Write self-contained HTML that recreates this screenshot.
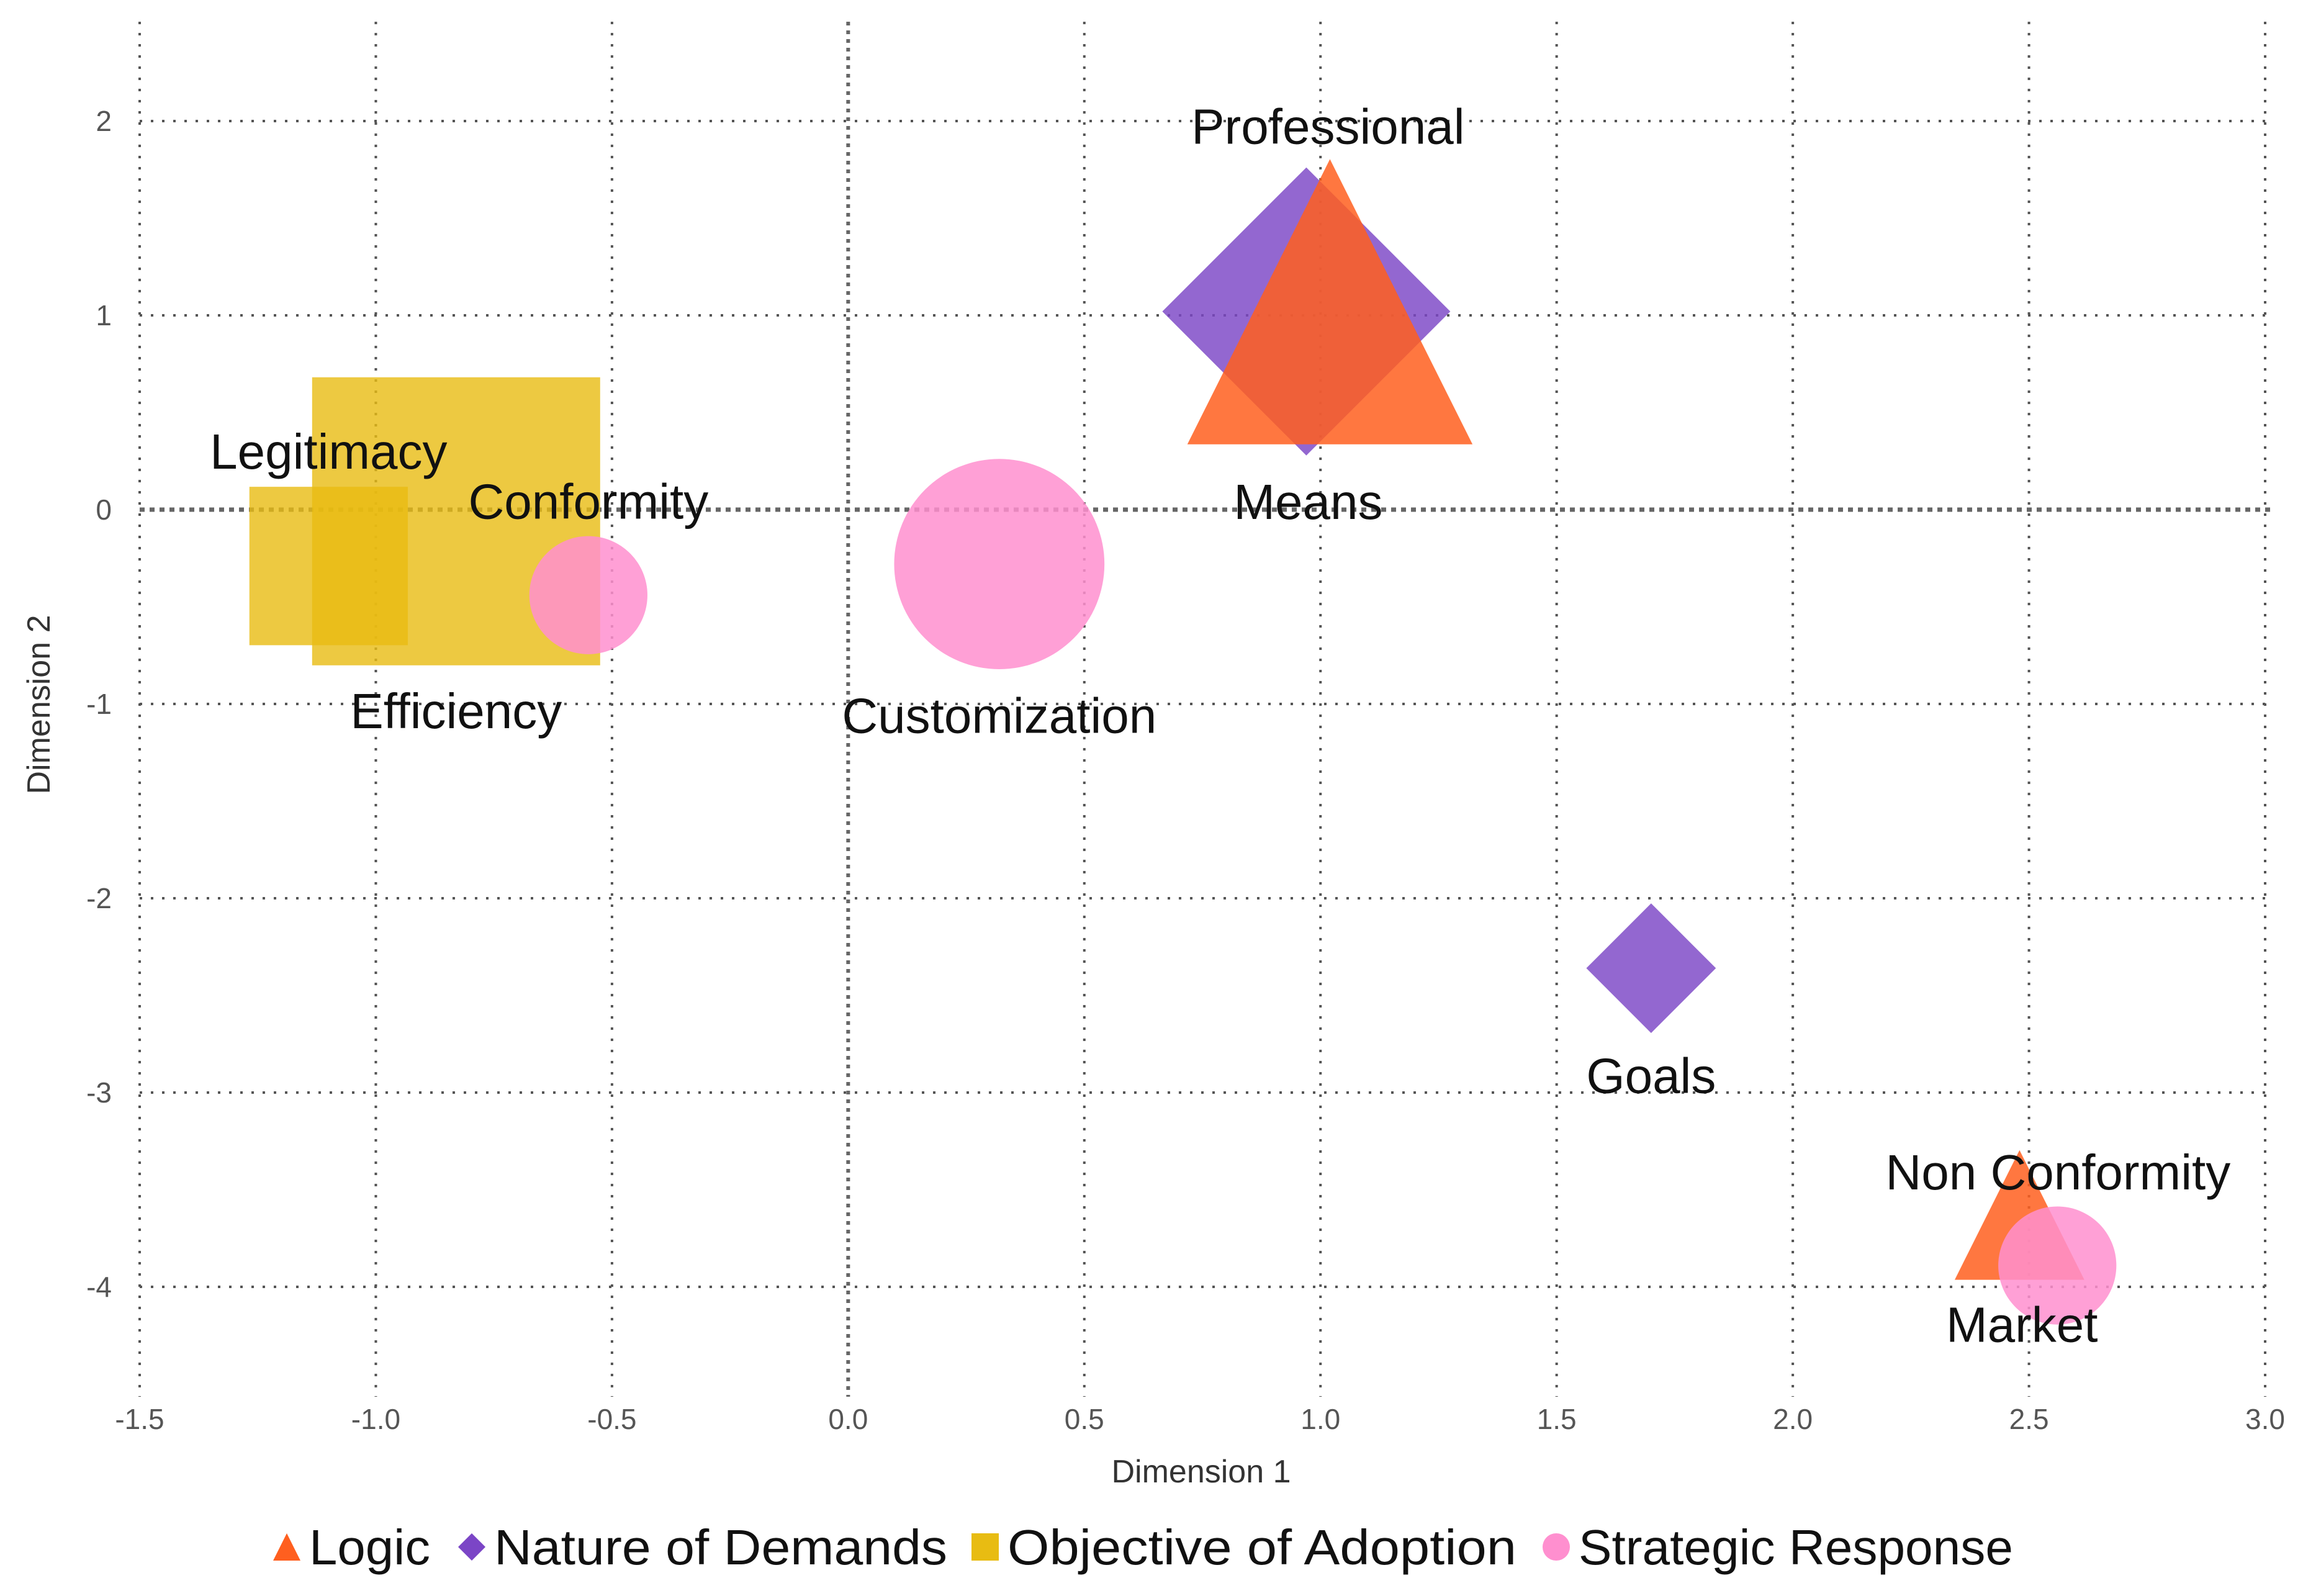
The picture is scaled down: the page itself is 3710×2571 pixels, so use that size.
<!DOCTYPE html>
<html><head><meta charset="utf-8"><style>
html,body{margin:0;padding:0;background:#fff;}
svg{display:block;font-family:"Liberation Sans",sans-serif;}
</style></head><body>
<svg id="chart" width="3710" height="2571" viewBox="0 0 3710 2571" xmlns="http://www.w3.org/2000/svg"></svg>
<script>
const categories = ["Legitimacy","Efficiency","Conformity","Customization","Professional","Means","Goals","Non Conformity","Market"];
const series = ["Objective of Adoption","Objective of Adoption","Strategic Response","Strategic Response","Nature of Demands","Logic","Nature of Demands","Logic","Strategic Response"];
const xValues = [-1.10,-0.83,-0.55,0.32,0.97,1.02,1.70,2.48,2.56];
const yValues = [-0.29,-0.06,-0.44,-0.28,1.02,1.07,-2.36,-3.63,-3.89];
const sizes = [1.1,2.0,0.82,1.46,2.0,1.98,0.9,0.9,0.82];
const xTicks = [-1.5,-1.0,-0.5,0.0,0.5,1.0,1.5,2.0,2.5,3.0];
const yTicks = [2,1,0,-1,-2,-3,-4];
const legendItems = ["Logic","Nature of Demands","Objective of Adoption","Strategic Response"];

const NS="http://www.w3.org/2000/svg";
const svg=document.getElementById('chart');
const X0=225,X1=3649,XMIN=-1.5,XMAX=3.0;
const Y0=821,YUNIT=313;
function sx(v){return X0+(v-XMIN)/(XMAX-XMIN)*(X1-X0);}
function sy(v){return Y0-v*YUNIT;}
const SIZE=232;
const colors={"Logic":"#FF5F1F","Nature of Demands":"#7B45C6","Objective of Adoption":"#E8BC12","Strategic Response":"#FF8FCF"};
const opac={"Logic":0.85,"Nature of Demands":0.82,"Objective of Adoption":0.8,"Strategic Response":0.85};
const order=["Objective of Adoption","Nature of Demands","Logic","Strategic Response"];
const labelOffsets=[[0,-185],[0,305],[0,-151],[0,244],[35,-298],[-35,322],[0,173],[62,-69],[-57,95]];
function mk(tag,attrs,parent){const e=document.createElementNS(NS,tag);for(const k in attrs)e.setAttribute(k,attrs[k]);(parent||svg).appendChild(e);return e;}

const grid=mk('g',{});


xTicks.forEach(t=>{
  const zero=t===0;
  mk('line',{x1:sx(t),x2:sx(t),y1:35,y2:2250,stroke:zero?'#666':'#555','stroke-width':zero?6:4,'stroke-dasharray':zero?'6 8':'4 14'},grid);
  const tl=mk('text',{x:sx(t),y:2302,'text-anchor':'middle','font-size':46,fill:'#555'});
  tl.textContent=t.toFixed(1);
  
  
});
yTicks.forEach(t=>{
  const zero=t===0;
  mk('line',{x1:X0,x2:3660,y1:sy(t),y2:sy(t),stroke:zero?'#666':'#555','stroke-width':zero?7:4,'stroke-dasharray':zero?'8 8':'4 14'},grid);
  const tl=mk('text',{x:180,y:sy(t)+16,'text-anchor':'end','font-size':46,fill:'#555'});
  tl.textContent=String(t);
  
  
});

const marks=mk('g',{});


order.forEach(s=>{
  categories.forEach((c,i)=>{
    if(series[i]!==s)return;
    const cx=sx(xValues[i]),cy=sy(yValues[i]),h=sizes[i]*SIZE/2;
    let el;
    const st={fill:colors[s],'fill-opacity':opac[s]};
    if(s==="Objective of Adoption"){el=mk('rect',Object.assign({x:cx-h,y:cy-h,width:2*h,height:2*h},st),marks);}
    else if(s==="Strategic Response"){el=mk('circle',Object.assign({cx:cx,cy:cy,r:h},st),marks);}
    else if(s==="Nature of Demands"){el=mk('polygon',Object.assign({points:`${cx},${cy-h} ${cx+h},${cy} ${cx},${cy+h} ${cx-h},${cy}`},st),marks);}
    else {el=mk('polygon',Object.assign({points:`${cx},${cy-h} ${cx+h},${cy+h} ${cx-h},${cy+h}`},st),marks);}
    
    
  });
});
categories.forEach((c,i)=>{
  const t=mk('text',{x:sx(xValues[i])+labelOffsets[i][0],y:sy(yValues[i])+labelOffsets[i][1]+28,'text-anchor':'middle','font-size':80,fill:'#111'});
  t.textContent=c;
  
  
});
const xt=mk('text',{x:1935,y:2388,'text-anchor':'middle','font-size':52,fill:'#333'});
xt.textContent="Dimension 1";


const yt=mk('text',{x:0,y:0,'text-anchor':'middle','font-size':52,fill:'#333',transform:'translate(80,1135) rotate(-90)'});
yt.textContent="Dimension 2";


const lg=mk('g',{});


const legendX=[440,738,1565,2485];
const legendW=[195,730,820,700];
const LY=2492;
legendItems.forEach((s,i)=>{
  const g=mk('g',{},lg);
  
  
  const x=legendX[i],c=colors[s];
  if(s==="Logic")mk('polygon',{points:`${x+22},${LY-22} ${x+44},${LY+22} ${x},${LY+22}`,fill:c},g);
  else if(s==="Nature of Demands")mk('polygon',{points:`${x+22},${LY-22} ${x+44},${LY} ${x+22},${LY+22} ${x},${LY}`,fill:c},g);
  else if(s==="Objective of Adoption")mk('rect',{x:x,y:LY-22,width:44,height:44,fill:c},g);
  else mk('circle',{cx:x+22,cy:LY,r:22,fill:c},g);
  const t=mk('text',{x:x+58,y:LY+28,'font-size':80,fill:'#111',textLength:legendW[i],lengthAdjust:'spacingAndGlyphs'},g);
  t.textContent=s;
});
</script>
</body></html>
